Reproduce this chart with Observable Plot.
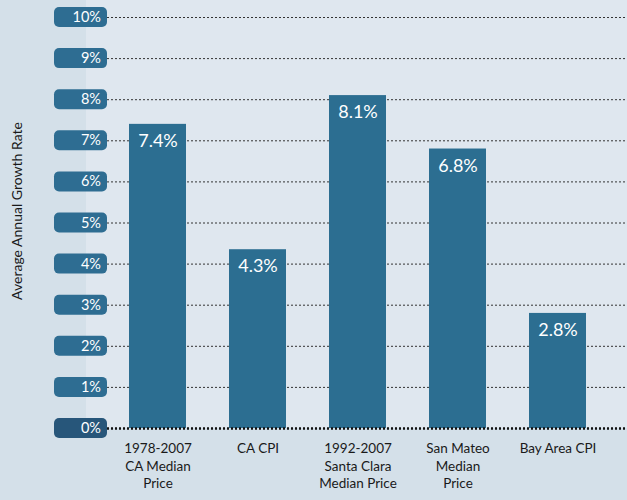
<!DOCTYPE html>
<html><head><meta charset="utf-8">
<script src="https://cdn.jsdelivr.net/npm/d3@7"></script>
<script src="https://cdn.jsdelivr.net/npm/@observablehq/plot@0.6"></script>
<style>
body{margin:0;background:#d4e0e9;font-family:Lato,"Open Sans",sans-serif}
#chart svg{display:block}
</style>
</head><body><div id="chart"></div>
<script>
const categories = ["1978-2007\nCA Median\nPrice", "CA CPI", "1992-2007\nSanta Clara\nMedian Price", "San Mateo\nMedian\nPrice", "Bay Area CPI"];
const values = [7.4, 4.35, 8.1, 6.8, 2.8];
const valueLabels = ["7.4%", "4.3%", "8.1%", "6.8%", "2.8%"];
const yTicks = [0, 1, 2, 3, 4, 5, 6, 7, 8, 9, 10];
const yTickLabels = ["0%", "1%", "2%", "3%", "4%", "5%", "6%", "7%", "8%", "9%", "10%"];
const yTitle = "Average Annual Growth Rate";

const data = categories.map((c, i) => ({category: c, value: values[i], label: valueLabels[i]}));
const ticks = yTicks.map((t, i) => ({t, label: yTickLabels[i]}));

const decor = (index, scales, vals, dims) => {
  const g = d3.create("svg:g");
  const y = scales.y;
  g.append("rect")
    .attr("x", dims.marginLeft - 21).attr("y", 0)
    .attr("width", dims.width - dims.marginLeft + 21).attr("height", y(0))
    .attr("fill", "#dfe7ef");
  return g.node();
};

const pills = (index, scales, vals, dims) => {
  const g = d3.create("svg:g");
  const y = scales.y;
  for (const d of ticks) {
    const py = y(d.t);
    g.append("rect")
      .attr("x", dims.marginLeft - 53).attr("y", py - 10)
      .attr("width", 53).attr("height", 20).attr("rx", 5)
      .attr("fill", d.t === 0 ? "#27567a" : "#2e6d92");
    g.append("text")
      .attr("x", dims.marginLeft - 6).attr("y", py)
      .attr("dy", "0.35em")
      .attr("text-anchor", "end")
      .attr("fill", "white")
      .attr("font-size", 14.5)
      .text(d.label);
  }
  return g.node();
};

const plot = Plot.plot({
  width: 627,
  height: 500,
  marginLeft: 107,
  marginRight: 0,
  marginTop: 17,
  marginBottom: 72,
  style: {background: "transparent", fontFamily: "Lato, 'Open Sans', sans-serif"},
  x: {domain: categories, range: [107, 607], paddingInner: 0.43, paddingOuter: 0.215, axis: null, label: null},
  y: {domain: [0, 10], axis: null, label: null},
  marks: [
    decor,
    Plot.ruleY(yTicks.filter(t => t > 0), {stroke: "#333", strokeWidth: 1, strokeDasharray: "2,2"}),
    Plot.barY(data, {x: "category", y: "value", fill: "#2c6e91"}),
    Plot.ruleY([0], {stroke: "#111", strokeWidth: 2.5, strokeDasharray: "2,2"}),
    Plot.text(data, {x: "category", y: "value", text: "label", fill: "white", fontSize: 18, lineAnchor: "middle", dy: 17}),
    pills,
    Plot.axisX({tickSize: 0, tickPadding: 12, fontSize: 13.5, lineHeight: 1.3, fill: "#1a1a1a", label: null}),
    Plot.text([yTitle], {frameAnchor: "left", textAnchor: "middle", dx: -90, dy: -12, rotate: -90, fontSize: 14, fill: "#1a1a1a"})
  ]
});
document.getElementById("chart").appendChild(plot);
</script>
</body></html>
